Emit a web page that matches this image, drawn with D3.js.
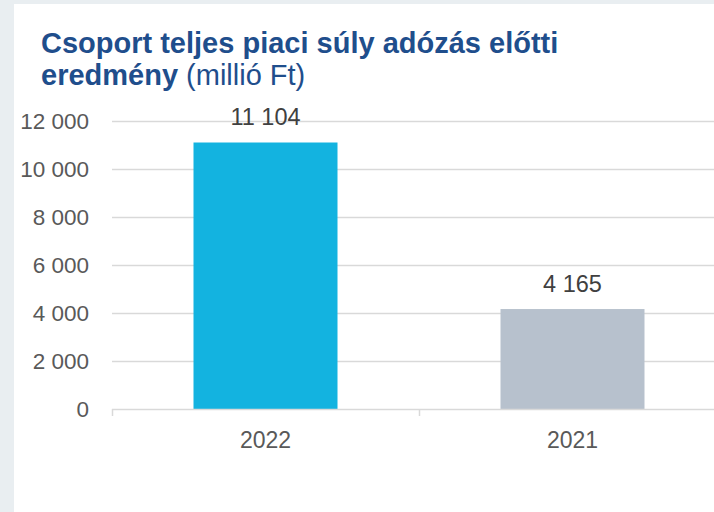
<!DOCTYPE html>
<html><head><meta charset="utf-8">
<script src="https://cdn.jsdelivr.net/npm/d3@7"></script>
<style>
html,body{margin:0;padding:0;background:#e9eef1;}
svg{display:block;}
</style></head>
<body>
<script>
const categories = ["2022", "2021"];
const values = [11104, 4165];
const barColors = ["#13b3e0", "#b7c1cd"];
const yTicks = [0, 2000, 4000, 6000, 8000, 10000, 12000];

const W = 714, H = 512;
const FONT = "Liberation Sans, Arial, sans-serif";
const svg = d3.select("body").append("svg").attr("width", W).attr("height", H);
svg.append("rect").attr("x", 0).attr("y", 0).attr("width", W).attr("height", H).attr("fill", "#e9eef1");
svg.append("rect").attr("x", 14).attr("y", 4).attr("width", W - 14).attr("height", H - 4).attr("fill", "#ffffff");

const fmt = v => d3.format(",")(v).replace(/,/g, " ");

const x = d3.scaleBand().domain(categories).range([112, 726]).paddingInner(0).paddingOuter(0);
const y = d3.scaleLinear().domain([0, 12000]).range([409, 121]);

// gridlines
svg.append("g").selectAll("line").data(yTicks.filter(d => d > 0)).join("line")
  .attr("x1", 112).attr("x2", W).attr("y1", d => y(d) + 0.5).attr("y2", d => y(d) + 0.5)
  .attr("stroke", "#d9d9d9").attr("stroke-width", 1.5);

// y labels
svg.append("g").selectAll("text").data(yTicks).join("text")
  .attr("x", 89).attr("y", d => y(d)).attr("dy", "0.36em").attr("text-anchor", "end")
  .attr("font-family", FONT).attr("font-size", 22.5).attr("fill", "#595959")
  .text(fmt);

// bars
const bw = 144;
svg.append("g").selectAll("rect").data(values).join("rect")
  .attr("x", (d, i) => x(categories[i]) + x.bandwidth() / 2 - bw / 2)
  .attr("width", bw)
  .attr("y", d => y(d)).attr("height", d => y(0) - y(d))
  .attr("fill", (d, i) => barColors[i]);

// value labels
svg.append("g").selectAll("text").data(values).join("text")
  .attr("x", (d, i) => x(categories[i]) + x.bandwidth() / 2)
  .attr("y", d => y(d) - 17.5).attr("text-anchor", "middle")
  .attr("font-family", FONT).attr("font-size", 23.5).attr("fill", "#404040")
  .text(fmt);

// x axis
const ax = svg.append("g");
ax.append("line").attr("x1", 112).attr("x2", W).attr("y1", y(0) + 0.5).attr("y2", y(0) + 0.5)
  .attr("stroke", "#d9d9d9").attr("stroke-width", 1.5);
ax.selectAll("line.tk").data(categories).join("line").attr("class", "tk")
  .attr("x1", d => x(d) + 0.5).attr("x2", d => x(d) + 0.5).attr("y1", y(0)).attr("y2", y(0) + 7)
  .attr("stroke", "#d9d9d9").attr("stroke-width", 1.5);
ax.selectAll("text").data(categories).join("text")
  .attr("x", d => x(d) + x.bandwidth() / 2).attr("y", y(0) + 39).attr("text-anchor", "middle")
  .attr("font-family", FONT).attr("font-size", 23).attr("fill", "#595959")
  .text(d => d);

// title
const t = svg.append("text").attr("font-family", FONT).attr("font-size", 29).attr("fill", "#1f4e8c");
t.append("tspan").attr("x", 41).attr("y", 53).attr("font-weight", "bold").text("Csoport teljes piaci súly adózás előtti");
t.append("tspan").attr("x", 41).attr("y", 84.5).attr("font-weight", "bold").text("eredmény");
t.append("tspan").attr("font-weight", "normal").text(" (millió Ft)");
</script>
</body></html>
